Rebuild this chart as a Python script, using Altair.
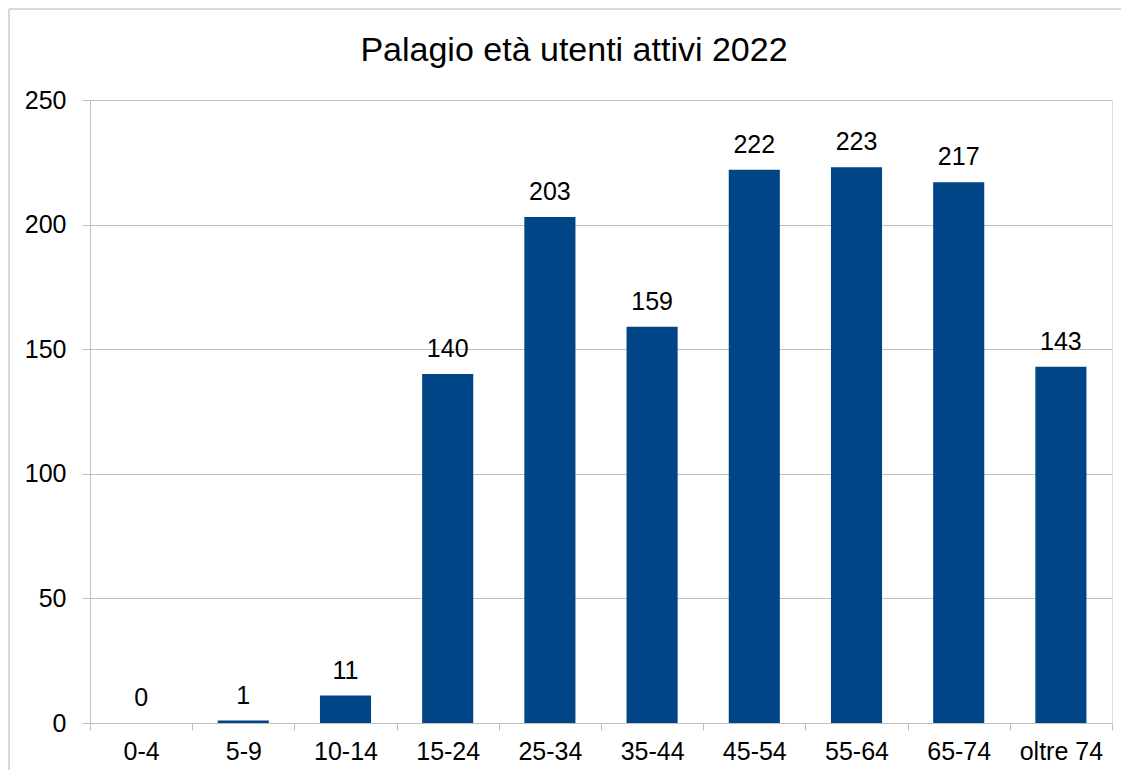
import altair as alt
import pandas as pd

categories = ["0-4", "5-9", "10-14", "15-24", "25-34", "35-44", "45-54", "55-64", "65-74", "oltre 74"]
values = [0, 1, 11, 140, 203, 159, 222, 223, 217, 143]
y_ticks = [0, 50, 100, 150, 200, 250]
title_text = "Palagio età utenti attivi 2022"

df = pd.DataFrame({"cat": categories, "val": values})

W, H = 1022, 623
FONT = "Liberation Sans"
GRID = "#bfbfbf"
FS = 25

x_enc = alt.X("cat:N", sort=categories, title=None,
              scale=alt.Scale(paddingInner=0, paddingOuter=0),
              axis=alt.Axis(labelAngle=0, labelFontSize=FS, labelFont=FONT, labelColor="#000000",
                            tickBand="extent", tickSize=7, tickColor=GRID, domainColor=GRID,
                            labelPadding=9, grid=False))
y_enc = alt.Y("val:Q", title=None,
              scale=alt.Scale(domain=[0, 250], nice=False),
              axis=alt.Axis(values=y_ticks, labelFontSize=FS, labelFont=FONT, labelColor="#000000",
                            tickSize=8, tickColor=GRID, domainColor=GRID, gridColor=GRID,
                            labelPadding=16, grid=True))

bars = alt.Chart(df).mark_bar(width={"band": 0.5}, color="#004586").encode(x=x_enc, y=y_enc)

labels = alt.Chart(df).mark_text(fontSize=FS, font=FONT, color="#000000", baseline="alphabetic", dy=-17).encode(
    x=alt.X("cat:N", sort=categories),
    y=alt.Y("val:Q"),
    text=alt.Text("val:Q"),
)

border_df = pd.DataFrame({"k": [0]})
left_border = alt.Chart(border_df).mark_rule(color="#d9d9d9", strokeWidth=2, clip=False).encode(
    x=alt.value(-81), y=alt.value(-91), y2=alt.value(H + 60))
top_border = alt.Chart(border_df).mark_rule(color="#d9d9d9", strokeWidth=2, clip=False).encode(
    x=alt.value(-81), x2=alt.value(W + 20), y=alt.value(-91))

title_df = pd.DataFrame({"t": [title_text]})
title_mark = alt.Chart(title_df).mark_text(fontSize=34, font=FONT, color="#000000",
                                           align="center", baseline="alphabetic", clip=False).encode(
    x=alt.value(484), y=alt.value(-39), text="t:N")

chart = alt.layer(left_border, top_border, bars, labels, title_mark).properties(
    width=W, height=H,
    autosize=alt.AutoSizeParams(type="none"),
    padding={"left": 82, "top": 92, "right": 9, "bottom": 47},
).configure_view(stroke=GRID, strokeWidth=1).configure(background="white")

chart.save("out.html", embed_options={"renderer": "svg", "actions": False})
